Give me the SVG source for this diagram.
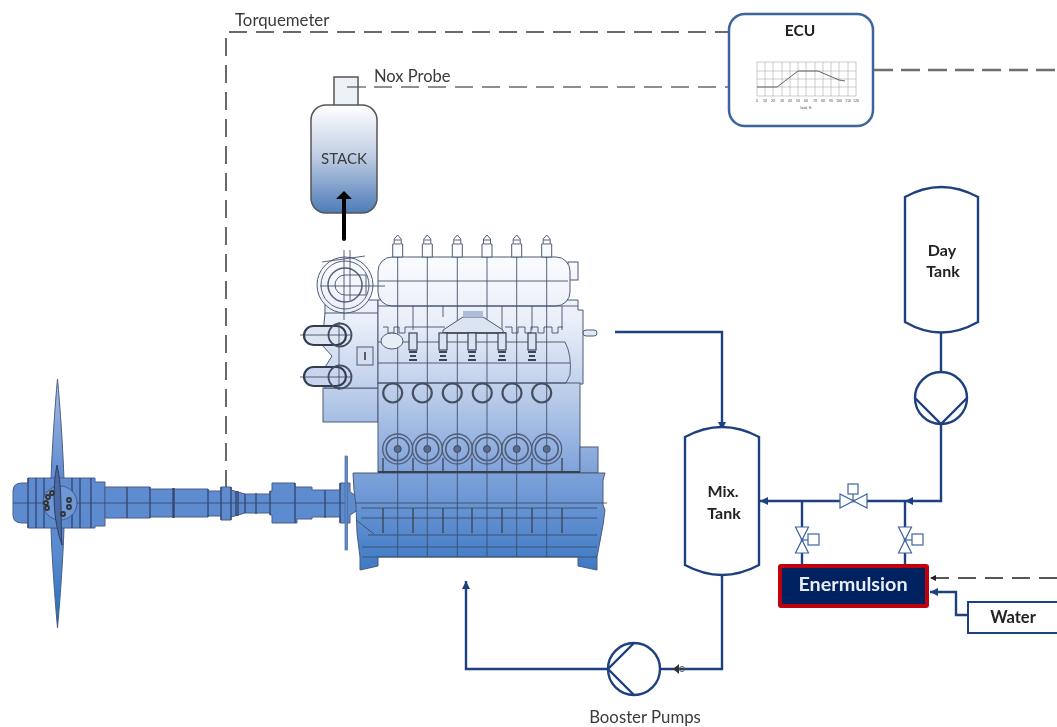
<svg xmlns="http://www.w3.org/2000/svg" width="1057" height="727" viewBox="0 0 1057 727">
<style>
.t{font-family:Lato,"Liberation Sans",sans-serif;fill:#3a3a3a}
.b{font-family:Lato,"Liberation Sans",sans-serif;font-weight:700;fill:#222;text-anchor:middle}
.pipe{fill:none;stroke:#1f3f80;stroke-width:2.4}
.tank{fill:#fff;stroke:#1f3f80;stroke-width:2.4}
.valve{fill:#fff;stroke:#3f63a5;stroke-width:1.2}
.eng{fill:url(#eg);stroke:#4d5b75;stroke-width:1}
.ln{fill:none;stroke:#3c4a63;stroke-width:1;opacity:.85}
.dk{fill:none;stroke:#3a4150;stroke-width:2}
.prop{fill:url(#pg);stroke:#4a5f85;stroke-width:1}
.pl{fill:none;stroke:#34446a;stroke-width:1.3}
.grid{stroke:#999;stroke-width:.5}
.tick{font-family:Lato,"Liberation Sans",sans-serif;font-size:3.5px;fill:#555;text-anchor:middle}
</style>
<defs>
<linearGradient id="eg" gradientUnits="userSpaceOnUse" x1="0" y1="235" x2="0" y2="572">
<stop offset="0" stop-color="#ffffff"/><stop offset=".26" stop-color="#e9eef8"/><stop offset=".48" stop-color="#b9cbe9"/><stop offset=".7" stop-color="#7fa3da"/><stop offset="1" stop-color="#3c78c4"/>
</linearGradient>
<linearGradient id="pg" gradientUnits="userSpaceOnUse" x1="0" y1="379" x2="0" y2="628">
<stop offset="0" stop-color="#a6bce4"/><stop offset=".4" stop-color="#5f8bd0"/><stop offset=".7" stop-color="#5a8bd0"/><stop offset="1" stop-color="#1d6db5"/>
</linearGradient>
<linearGradient id="sg" x1="0" y1="0" x2="0" y2="1">
<stop offset="0" stop-color="#ffffff"/><stop offset=".45" stop-color="#c3d0e4"/><stop offset="1" stop-color="#4d7cb8"/>
</linearGradient>
<marker id="ah" markerWidth="10" markerHeight="10" refX="8" refY="4" orient="auto" markerUnits="userSpaceOnUse"><path d="M0 0L8 4L0 8Z" fill="#1f3f80"/></marker>
<marker id="ak" markerWidth="10" markerHeight="10" refX="6" refY="3" orient="auto" markerUnits="userSpaceOnUse"><path d="M0 0L6 3L0 6Z" fill="#222"/></marker>
<filter id="soft" filterUnits="userSpaceOnUse" x="0" y="0" width="1057" height="727"><feGaussianBlur stdDeviation=".4"/></filter>
<g id="inj"><path class="eng" d="M-5 257V244H-3.500V239L0 235L3.500 239V244H5V257Z"/><path class="ln" d="M-3 240H3M-3 244H3"/></g>
<g id="ring"><circle r="9.500" fill="none" stroke="#454e5e" stroke-width="2.200"/></g>
<g id="big"><circle r="15" fill="none" stroke="#4f5b75" stroke-width="1.300"/><circle r="11.500" fill="none" stroke="#4f5b75" stroke-width="1.600"/><circle r="3.500" fill="#5b6b88" stroke="#3d4a63"/></g>
<g id="cyl"><rect x="-4" y="333" width="8" height="17" fill="#dbe3f1" stroke="#3a4459" stroke-width="1.200"/><path d="M-4 352H4M-3 356H3M-4 360H4" stroke="#3a4459" stroke-width="1.800" fill="none"/></g>
<g id="vv"><path class="valve" d="M-6.500 -13L6.500 -13L-6.500 13L6.500 13Z"/></g>
</defs>
<g filter="url(#soft)">
<rect width="1057" height="727" fill="#fff"/>
<g id="connectors">
<path d="M226 488V32H728" fill="none" stroke="#6a6a6a" stroke-width="2" stroke-dasharray="18 9"/>
<path d="M374 87H728" fill="none" stroke="#6a6a6a" stroke-width="1.600" stroke-dasharray="18 9"/>
<path d="M874 70H1057" fill="none" stroke="#6e6e6e" stroke-width="2.600" stroke-dasharray="19 8"/>
<path d="M1057 578H930" fill="none" stroke="#222" stroke-width="1.300" stroke-dasharray="18 9" marker-end="url(#ak)"/>
<path class="pipe" d="M615 332H722V430" marker-end="url(#ah)"/>
<path class="pipe" d="M941 333V372"/>
<path class="pipe" d="M941 424V501H905" marker-end="url(#ah)"/>
<path class="pipe" d="M905 501H760" marker-end="url(#ah)"/>
<path class="pipe" d="M802 501V564M905 501V564"/>
<path class="pipe" d="M722 575V669H661"/>
<path class="pipe" d="M608 669H466V581" marker-end="url(#ah)"/>
<path class="pipe" d="M968 615H956V592H930" marker-end="url(#ah)"/>
<path d="M673 669L679 664V674Z" fill="#333"/><circle cx="682" cy="669" r="2.500" fill="none" stroke="#555"/>
</g>

<g id="propeller">
<path class="prop" d="M57.500 379C55 405 52 450 51 480H64C63 450 60 405 57.500 379Z"/>
<path class="prop" d="M57.500 628C55 600 52 560 51 528H64C63 560 60 600 57.500 628Z"/>
<path class="prop" d="M22 483H28V478H95V482H105V526H95V528H28V523H22Q13 523 13 515V491Q13 483 22 483Z"/>
<path class="prop" d="M105 487H150V489H208V491H221V487H231V490L245 494H270V491H272V483H295V487H312V490H340V483H350V492L358 497V510L350 515V523H340V517H312V519H297V523H272V515H270V513H245L231 517V520H221V516H208V517H150V518H105Z"/>
<path class="pl" d="M28 478V528M36 478V528M44 478V528M72 478V528M80 478V528M91 478V528M127 487V518M150 487V518M173 488V518M174 488V518M208 489V517M221 487V520M231 487V520M236 491V516M238 491V516M245 494V513M256 493V514M270 491V515M295 483V523M325 490V518M340 483V523"/>
<path d="M13 503H345" fill="none" stroke="#34446a" stroke-width=".8"/>
<circle cx="60" cy="503" r="17" fill="#6d97d6" stroke="#3d4f70" stroke-width=".8"/>
<path d="M57 465C63 490 60 520 62 545C53 520 52 490 57 465Z" fill="#4a6ba6" stroke="#2f3f5f"/>
<g fill="none" stroke="#333" stroke-width="1.800"><circle cx="47" cy="508" r="2"/><circle cx="46" cy="503" r="2"/><circle cx="48" cy="497" r="2"/><circle cx="52" cy="493" r="2"/><circle cx="69" cy="500" r="2"/><circle cx="69" cy="507" r="2"/><circle cx="63" cy="514" r="2"/></g>
<rect x="345" y="456" width="2.500" height="94" fill="#6089c8" stroke="#4a6a9d" stroke-width=".7"/>
</g>

<g id="engine">
<path class="eng" d="M330 300H378V314H325V300Z"/>
<rect class="eng" x="323" y="388" width="55" height="34"/>
<path class="eng" d="M325 313H378V388H325L322 372L332 356L322 345Z"/>
<rect class="eng" x="568" y="262" width="10" height="18"/>
<path class="eng" d="M378 300H578V310H583V384H378Z"/>
<rect class="eng" x="378" y="383" width="202" height="90"/>
<rect class="eng" x="580" y="447" width="18" height="26"/>
<rect class="eng" x="583" y="330" width="14" height="6" rx="3"/>
<path class="eng" d="M353 473H605L603 480V505L605 510L603 525L597 557V570L578 566V557H378V566L360 570V557L357 533L356 505L354 490Z"/>
<rect class="eng" x="378" y="257" width="192" height="49" rx="14"/>
<circle class="eng" cx="345" cy="285" r="28"/>
<circle class="ln" cx="345" cy="285" r="24"/>
<circle class="ln" cx="345" cy="285" r="17" style="stroke-width:1.500"/>
<path class="ln" d="M345 275H366V295H345A10 10 0 0 1 345 275Z"/>
<path class="ln" d="M320 286H385M344 250V320M350 250V300M322 262L365 256"/>
<use href="#inj" x="397.700"/><use href="#inj" x="427.300"/><use href="#inj" x="457.300"/><use href="#inj" x="487"/><use href="#inj" x="516.700"/><use href="#inj" x="546.700"/>
<path class="ln" d="M397.700 257V557M427.300 257V557M457.300 257V557M487 257V557M516.700 257V557M546.700 257V557M378 281H568M378 306H578"/>
<path class="ln" d="M413 306V330M443 306V317M502 306V330M532 306V330M562 306V330"/>
<path class="ln" d="M383 327H388V333H394V327H399V333H405V327H445M505 327H512V333H518V327H525V333H531V327H538V333H544V327H552V333H558V327H563"/>
<path class="eng" d="M443 330L463 317H483L503 330V333H443Z" style="fill:#dce4f2"/>
<rect x="463" y="311" width="20" height="6" fill="#aebcd8"/>
<path class="dk" d="M444 333H506" style="stroke-width:1.300"/>
<path class="ln" d="M378 342H565Q572 355 570 375L566 383H378M378 363H570"/>
<use href="#cyl" x="413"/><use href="#cyl" x="443"/><use href="#cyl" x="472"/><use href="#cyl" x="502"/><use href="#cyl" x="532"/>
<ellipse class="eng" cx="392" cy="341" rx="11" ry="8" style="fill:#e8edf6"/>
<rect class="eng" x="357" y="347" width="16" height="18" style="fill:#d5def0"/><path d="M365 352V360" stroke="#333" stroke-width="1.500"/>
<rect x="304" y="326" width="42" height="19" rx="9.500" fill="#dde5f3" stroke="#333c4d" stroke-width="2.200"/>
<rect x="304" y="367" width="42" height="19" rx="9.500" fill="#c8d5ec" stroke="#333c4d" stroke-width="2.200"/>
<circle cx="340" cy="335" r="11.500" fill="none" stroke="#444d60" stroke-width="1.800"/><circle cx="340" cy="377" r="11.500" fill="none" stroke="#444d60" stroke-width="1.800"/>
<path class="ln" d="M300 335H352M300 377H352M339 322V390"/>
<use href="#ring" x="392.700" y="393"/><use href="#ring" x="422.300" y="393"/><use href="#ring" x="452.300" y="393"/><use href="#ring" x="482.300" y="393"/><use href="#ring" x="512" y="393"/><use href="#ring" x="541.700" y="393"/>
<use href="#big" x="397.700" y="449"/><use href="#big" x="427.300" y="449"/><use href="#big" x="457.300" y="449"/><use href="#big" x="487" y="449"/><use href="#big" x="516.700" y="449"/><use href="#big" x="546.700" y="449"/>
<path class="dk" d="M383 458V472M413 458V472M443 458V472M472 458V472M502 458V472M532 458V472M562 458V472" style="stroke-width:1.300"/>
<path class="dk" d="M378 472H580" style="stroke-width:2.200"/>
<path class="ln" d="M355 503H607M361 508H597M361 518H597M368 535H597M362 547H597M362 557H597M356 520L374 534"/>
<path class="dk" d="M383 508V533M413 508V533M443 508V533M472 508V533M502 508V533M532 508V533M562 508V533" style="stroke-width:1.300"/>
</g>

<g id="stack">
<rect x="334" y="77" width="24" height="29" fill="#edf1f8" stroke="#555" stroke-width="1.500"/>
<rect x="311" y="105" width="66" height="108" rx="15" fill="url(#sg)" stroke="#555" stroke-width="1.500"/>
<path d="M347 87H366" stroke="#555" stroke-width="1.200"/>
<text class="t" x="344" y="164" font-size="15" text-anchor="middle">STACK</text>
<path d="M344 239V199" stroke="#000" stroke-width="4" stroke-linecap="round"/><path d="M336 199L344 191L352 199Z" fill="#000"/>
</g>

<g id="ecu">
<rect x="729" y="14" width="144" height="112" rx="16" fill="#fff" stroke="#3a659c" stroke-width="2.500"/>
<text class="b" x="800" y="36" font-size="15.500">ECU</text>
<path class="grid" d="M757 62H856M757 71H856M757 79H856M757 87H856M757 96H856M757 62V96M765 62V96M773 62V96M782 62V96M790 62V96M798 62V96M806 62V96M815 62V96M823 62V96M831 62V96M839 62V96M848 62V96M856 62V96"/>
<path d="M757 87H777L798 71H818L839 80L845 81" fill="none" stroke="#555" stroke-width=".9"/>
<g class="tick"><text x="757" y="102">0</text><text x="765" y="102">10</text><text x="773" y="102">20</text><text x="782" y="102">30</text><text x="790" y="102">40</text><text x="798" y="102">50</text><text x="806" y="102">60</text><text x="815" y="102">70</text><text x="823" y="102">80</text><text x="831" y="102">90</text><text x="839" y="102">100</text><text x="848" y="102">110</text><text x="856" y="102">120</text><text x="806" y="109">load, %</text></g>
</g>

<g id="day-tank"><path class="tank" d="M905 197Q941 177 978 197V322Q941 343 905 322Z"/><text class="b" x="942" y="256" font-size="16">Day</text><text class="b" x="943" y="277" font-size="16">Tank</text></g>
<g id="mix-tank"><path class="tank" d="M685 437Q722 417 759 437V565Q722 585 685 565Z"/><text class="b" x="723" y="497" font-size="16">Mix.</text><text class="b" x="724" y="519" font-size="16">Tank</text></g>
<g id="pump-day"><circle cx="941" cy="398" r="26" class="tank"/><path class="pipe" d="M915 398L941 424L967 398"/></g>
<g id="pump-booster"><circle cx="634" cy="669" r="26" class="tank"/><path class="pipe" d="M634 643L608 669L634 695"/><text class="t" x="645" y="723" font-size="16.800" text-anchor="middle">Booster Pumps</text></g>
<g id="valve-top"><path class="valve" d="M840 494V508L867 494V508Z"/><path class="valve" d="M853 501V494"/><rect class="valve" x="848" y="484" width="10" height="10"/></g>
<g id="valve-left"><use href="#vv" x="802" y="540"/><path class="valve" d="M802 540H808"/><rect class="valve" x="808" y="534" width="11" height="11"/></g>
<g id="valve-right"><use href="#vv" x="905" y="540"/><path class="valve" d="M905 540H912"/><rect class="valve" x="912" y="534" width="11" height="11"/></g>
<g id="enermulsion"><rect x="780" y="566" width="147" height="40" rx="1" fill="#002060" stroke="#c00010" stroke-width="4"/><text x="853" y="591" font-family="Lato,'Liberation Sans',sans-serif" font-weight="700" font-size="19.800" fill="#e8edf5" text-anchor="middle">Enermulsion</text></g>
<g id="water"><path d="M1060 602H968V633H1060" fill="#fff" stroke="#1f3f80" stroke-width="2"/><text class="b" x="1013" y="623" font-size="16.500">Water</text></g>
<text class="t" x="235" y="26" font-size="16.800">Torquemeter</text>
<text class="t" x="374" y="82" font-size="16.500">Nox Probe</text>
</g>
</svg>
